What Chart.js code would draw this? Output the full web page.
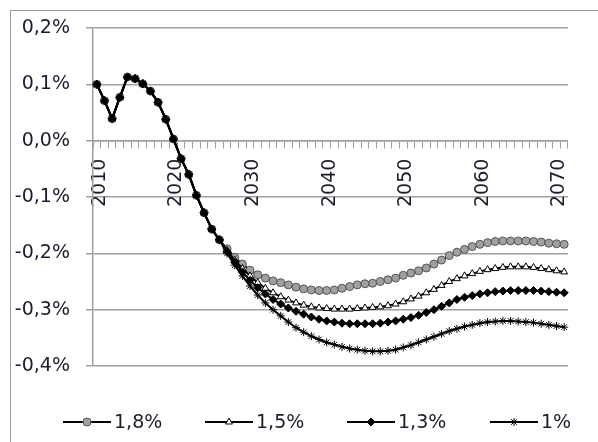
<!DOCTYPE html>
<html>
<head>
<meta charset="utf-8">
<script src="https://cdn.jsdelivr.net/npm/chart.js@4.4.0/dist/chart.umd.min.js"></script>
<style>
  html, body { margin: 0; padding: 0; background: #fff; overflow: hidden; }
  canvas { display: block; }
</style>
</head>
<body>
<canvas id="chart" width="598" height="442"></canvas>
<script>
// ── Years on the category axis (the picture is cut just after 2070)
const years = [
  2010, 2011, 2012, 2013, 2014, 2015, 2016, 2017, 2018, 2019,
  2020, 2021, 2022, 2023, 2024, 2025, 2026, 2027, 2028, 2029,
  2030, 2031, 2032, 2033, 2034, 2035, 2036, 2037, 2038, 2039,
  2040, 2041, 2042, 2043, 2044, 2045, 2046, 2047, 2048, 2049,
  2050, 2051, 2052, 2053, 2054, 2055, 2056, 2057, 2058, 2059,
  2060, 2061, 2062, 2063, 2064, 2065, 2066, 2067, 2068, 2069,
  2070, 2071
];

// ── Series names (legend)
const seriesNames = ['1,8%', '1,5%', '1,3%', '1%'];

// ── y ticks, in %
const yTicks = [-0.4, -0.3, -0.2, -0.1, 0.0, 0.1, 0.2];

// ── 2010–2026: the four series sit on top of each other
const common = [
  0.100, 0.071, 0.039, 0.077, 0.113, 0.110, 0.101, 0.088, 0.068, 0.038,
  0.003, -0.032, -0.060, -0.097, -0.128, -0.157, -0.176
];

// ── 2027–2071, one list per series
const tail18 = [
  -0.192, -0.207, -0.219, -0.230, -0.238, -0.244, -0.249, -0.252, -0.256, -0.260,
  -0.263, -0.265, -0.266, -0.266, -0.265, -0.262, -0.259, -0.256, -0.254, -0.253,
  -0.250, -0.247, -0.244, -0.239, -0.235, -0.231, -0.226, -0.219, -0.212, -0.204,
  -0.198, -0.193, -0.188, -0.184, -0.181, -0.179, -0.178, -0.178, -0.178, -0.178,
  -0.179, -0.180, -0.182, -0.183, -0.184
];
const tail15 = [
  -0.195, -0.212, -0.227, -0.240, -0.252, -0.262, -0.270, -0.277, -0.283, -0.288,
  -0.292, -0.295, -0.297, -0.298, -0.299, -0.299, -0.299, -0.298, -0.297, -0.296,
  -0.295, -0.293, -0.290, -0.286, -0.281, -0.276, -0.270, -0.264, -0.257, -0.250,
  -0.245, -0.240, -0.236, -0.232, -0.229, -0.227, -0.225, -0.224, -0.224, -0.224,
  -0.225, -0.227, -0.229, -0.231, -0.233
];
const tail13 = [
  -0.197, -0.216, -0.233, -0.248, -0.261, -0.272, -0.282, -0.290, -0.297, -0.303,
  -0.308, -0.313, -0.317, -0.320, -0.322, -0.324, -0.325, -0.325, -0.325, -0.325,
  -0.324, -0.322, -0.320, -0.317, -0.314, -0.310, -0.305, -0.300, -0.294, -0.288,
  -0.282, -0.278, -0.275, -0.272, -0.270, -0.268, -0.267, -0.266, -0.266, -0.266,
  -0.266, -0.267, -0.268, -0.269, -0.270
];
const tail10 = [
  -0.200, -0.221, -0.240, -0.258, -0.274, -0.288, -0.300, -0.311, -0.322, -0.332,
  -0.340, -0.347, -0.353, -0.358, -0.362, -0.366, -0.369, -0.371, -0.373, -0.374,
  -0.374, -0.373, -0.371, -0.367, -0.363, -0.358, -0.353, -0.348, -0.343, -0.338,
  -0.334, -0.330, -0.327, -0.324, -0.322, -0.321, -0.320, -0.320, -0.321, -0.322,
  -0.323, -0.325, -0.327, -0.329, -0.331
];

const rate18 = common.concat(tail18);
const rate15 = common.concat(tail15);
const rate13 = common.concat(tail13);
const rate10 = common.concat(tail10);

// ── Look
const FONT  = 'DejaVu Sans';
const TEXT  = '#1c1c2c';
const GRID  = '#a0a0a0';
const FRAME = '#9a9a9a';

Chart.defaults.font.family = FONT;
Chart.defaults.font.size = 19;
Chart.defaults.color = TEXT;

// "0,1%" style labels
const fmtPct = v => (Math.round(v * 10) / 10).toFixed(1).replace('.', ',') + '%';

// outer frame of the chart (right and bottom edges fall outside the picture)
const framePlugin = {
  id: 'frame',
  beforeDraw(chart) {
    const ctx = chart.ctx;
    ctx.save();
    ctx.fillStyle = '#fff';
    ctx.fillRect(0, 0, chart.width, chart.height);
    ctx.strokeStyle = FRAME;
    ctx.lineWidth = 1;
    ctx.strokeRect(10.5, 10.5, chart.width + 20, chart.height + 20);
    ctx.restore();
  }
};

// legend under the plot: short line + marker + text
const legendPlugin = {
  id: 'lineLegend',
  afterDraw(chart) {
    const ctx = chart.ctx;
    const xs = [63, 205, 347, 490];
    const y = 422;
    ctx.save();
    chart.data.datasets.forEach((ds, i) => {
      const x0 = xs[i];
      ctx.strokeStyle = '#000';
      ctx.lineWidth = 2;
      ctx.beginPath();
      ctx.moveTo(x0, y);
      ctx.lineTo(x0 + 48, y);
      ctx.stroke();
      ctx.fillStyle = ds.pointBackgroundColor;
      ctx.strokeStyle = ds.pointBorderColor;
      ctx.lineWidth = ds.pointBorderWidth;
      Chart.helpers.drawPoint(ctx, {
        pointStyle: ds.pointStyle, radius: ds.pointRadius,
        borderWidth: ds.pointBorderWidth, rotation: 0
      }, x0 + 24, y);
      ctx.fillStyle = TEXT;
      ctx.font = '19px "' + FONT + '"';
      ctx.textBaseline = 'middle';
      ctx.textAlign = 'left';
      ctx.fillText(ds.label, x0 + 51, y + 1);
    });
    ctx.restore();
  }
};

function series(label, data, style, fill, order) {
  return {
    label: label,
    data: data,
    borderColor: '#000',
    borderWidth: 2,
    tension: 0,
    pointStyle: style,
    pointRadius: 4,
    pointBackgroundColor: fill,
    pointBorderColor: style === 'circle' ? '#555555' : '#000',
    pointBorderWidth: 1,
    order: order,   // 1% drawn last (on top)
  };
}

new Chart(document.getElementById('chart'), {
  type: 'line',
  data: {
    labels: years,
    datasets: [
      series(seriesNames[0], rate18, 'circle',   '#a0a0a0', 4),
      series(seriesNames[1], rate15, 'triangle', '#ffffff', 3),
      series(seriesNames[2], rate13, 'rectRot',  '#000000', 2),
      series(seriesNames[3], rate10, 'star',     '#000000', 1),
    ],
  },
  options: {
    responsive: false,
    animation: false,
    // plot runs a little past the right edge, as in the cropped original
    layout: { padding: { left: 0, top: 28, right: -5, bottom: 76 } },
    plugins: {
      legend: { display: false },
      tooltip: { enabled: false },
    },
    scales: {
      x: {
        type: 'category',
        offset: true,
        position: { y: 0 },
        grid: { offset: true, drawOnChartArea: false, drawTicks: true, tickLength: 7, color: GRID, lineWidth: 1 },
        border: { display: true, color: GRID, width: 1.5 },
        ticks: {
          autoSkip: false,
          minRotation: 90,
          maxRotation: 90,
          padding: 11,
          labelOffset: 3,   // Excel puts rotated labels a touch right of the category centre
          color: TEXT,
          callback: (v, i) => (years[i] % 10 === 0 ? String(years[i]) : ''),
        },
      },
      y: {
        min: yTicks[0],
        max: yTicks[yTicks.length - 1],
        afterBuildTicks: s => { s.ticks = yTicks.map(v => ({ value: v })); },
        afterFit: s => { s.width = 93; },
        grid: { color: GRID, lineWidth: 1.5, drawTicks: true, tickLength: 7 },
        border: { display: true, color: GRID, width: 1.5 },
        ticks: { padding: 16, color: TEXT, callback: v => fmtPct(v) },
      },
    },
  },
  plugins: [framePlugin, legendPlugin],
});
</script>
</body>
</html>
